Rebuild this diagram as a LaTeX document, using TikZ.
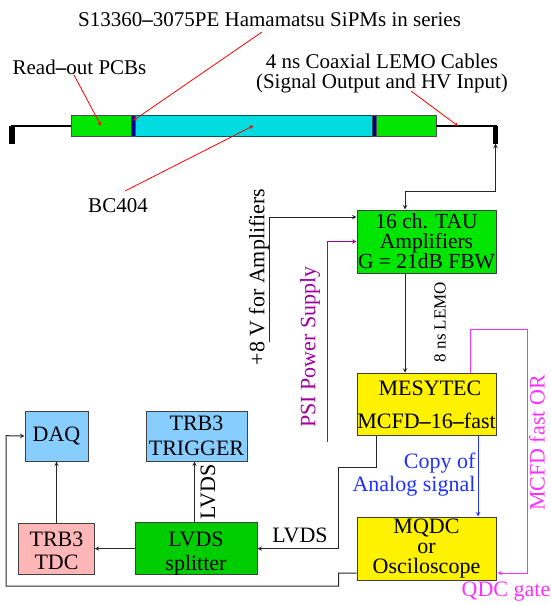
\documentclass[tikz,border=0pt]{standalone}
\usepackage{fontspec}
\setmainfont{Liberation Serif}
\usetikzlibrary{calc}
\definecolor{ampgreen}{HTML}{00E600}
\definecolor{splitgreen}{HTML}{00CD00}
\definecolor{boxblue}{HTML}{87CEFF}
\definecolor{boxpink}{HTML}{FFB6B6}
\definecolor{scintcyan}{HTML}{00DCE0}
\definecolor{sipmblue}{HTML}{000090}
\definecolor{psipurple}{HTML}{A000A0}
\definecolor{gatemagenta}{HTML}{FF30FF}
\definecolor{copyblue}{HTML}{2030FF}
\tikzset{
	box/.style={draw=black!75, line width=1pt, inner sep=0pt, align=center, font=\fontsize{22}{22}\selectfont},
	barpart/.style={draw=black!70, line width=0.8pt, inner sep=0pt, minimum height=20.5pt},
	cable/.style={line width=2.2pt},
	plug/.style={fill=black, inner sep=0pt, minimum width=5.5pt, minimum height=18pt},
	pointer/.style={->, red, line width=0.8pt},
	wire/.style={line width=1pt, black!85},
	lbl/.style={inner sep=0pt, align=center, font=\fontsize{21}{20}\selectfont},
	rlbl/.style={inner sep=0pt, rotate=90, font=\fontsize{22}{22}\selectfont}
}
\begin{document}
\begin{tikzpicture}[x=1pt, y=-1pt, >=stealth]
	\useasboundingbox (0, 0) rectangle (551, 605);

	% bar with the read-out boards
	\node[plug](PL) at (12, 134.5){};
	\node[plug](PR) at (495.5, 134.5){};
	\node[barpart, fill=ampgreen, minimum width=60pt](PCBL) at (101, 125.7){};
	\node[barpart, fill=ampgreen, minimum width=60pt](PCBR) at (406, 125.7){};
	\node[barpart, fill=scintcyan, draw=teal!70!black, minimum width=237pt](BC) at (253.5, 125.7){};
	\node[barpart, fill=sipmblue, minimum width=4pt](SL) at (133, 125.7){};
	\node[barpart, fill=sipmblue, minimum width=4pt](SR) at (374, 125.7){};
	\draw [cable] (PL.north) |- (PCBL.west);
	\draw [cable] (PCBR.east) -| (PR.north);

	% boxes
	\node[box, fill=ampgreen, minimum width=139pt, minimum height=63pt, font=\fontsize{21.5}{20}\selectfont](AMP) at (426.5, 241.5){16 ch. TAU\\Amplifiers\\G = 21dB FBW};
	\node[box, fill=yellow, minimum width=139pt, minimum height=62.5pt](MES) at (426.5, 404.5){\hspace*{7pt}MESYTEC\\[11pt]MCFD\textbf{--}16\textbf{--}fast};
	\node[box, fill=yellow, minimum width=139pt, minimum height=63pt, font=\fontsize{22}{20}\selectfont](QDC) at (426.5, 548.5){MQDC\\or\\Osciloscope};
	\node[box, fill=splitgreen, minimum width=122pt, minimum height=51pt, font=\fontsize{22}{24}\selectfont](SPL) at (196, 548.5){\rule{0pt}{24pt}LVDS\\splitter};
	\node[box, fill=boxpink, minimum width=75.5pt, minimum height=51pt, font=\fontsize{22}{23}\selectfont](TDC) at (56.5, 548.5){\rule{0pt}{19pt}TRB3\\TDC};
	\node[box, fill=boxblue, minimum width=63pt, minimum height=50pt](DAQ) at (56.5, 436){DAQ};
	\node[box, fill=boxblue, minimum width=101pt, minimum height=50pt, font=\fontsize{22}{25}\selectfont](TRG) at (196.5, 436){TRB3\\TRIGGER};

	% free ends
	\coordinate(VIN) at (269, 342);
	\coordinate(PSI) at (327.5, 441.5);
	\coordinate(RO) at (74, 75);
	\coordinate(SM) at (262, 32);
	\coordinate(LM) at (411, 91);
	\coordinate(LE) at (458, 126);
	\coordinate(BL) at (125, 191);

	% labels
	\node[lbl](TITLE) at (269.5, 20){S13360\textbf{--}3075PE Hamamatsu SiPMs in series};
	\node[lbl](ROL) at (79.5, 67){Read\textbf{--}out PCBs};
	\node[lbl](LML) at (382, 73.5){4 ns Coaxial LEMO Cables\\(Signal Output and HV Input)};
	\node[lbl](BLL) at (118, 206){BC404};
	\node[rlbl](VL) at (259, 277){+8 V for Amplifiers};
	\node[rlbl, text=psipurple](PSIL) at (310, 347){PSI Power Supply};
	\node[rlbl, font=\fontsize{17}{17}\selectfont](NSL) at (440, 322){8 ns LEMO};
	\node[rlbl, text=gatemagenta](ORL) at (537, 443){MCFD fast OR};
	\node[lbl, text=gatemagenta, font=\fontsize{22}{22}\selectfont](QL) at (506, 592){QDC gate};
	\node[lbl, text=copyblue, align=right, font=\fontsize{22}{23}\selectfont](CPL) at (414, 475){Copy of\\Analog signal};
	\node[lbl, font=\fontsize{22}{22}\selectfont](LV1) at (300, 535){LVDS};
	\node[rlbl](LV2) at (208, 492){LVDS};

	\draw [pointer] (RO) -- (PCBL.center);
	\draw [pointer] (SM) -- ([yshift=5pt]SL.center);
	\draw [pointer] (LM) -- (LE);
	\draw [pointer] (BL) -- (BC.center);

	\draw [<->, wire] (PR.south) |- (405, 191) -- ([xshift=-21.5pt]AMP.north);
	\draw [->, wire] (VIN) |- ([yshift=24.5pt]AMP.west);
	\draw [->, psipurple, line width=1pt] (PSI) |- (AMP.west);
	\draw [->, wire] ([xshift=-21.5pt]AMP.south) -- ([xshift=-21.5pt]MES.north);
	\draw [->, copyblue, line width=1pt] ([xshift=51.5pt]MES.south) -- ([xshift=51.5pt]QDC.north);
	\draw [->, gatemagenta, line width=1pt] ([xshift=44pt]MES.north) |- (527, 329) |- ([yshift=-24.5pt, xshift=1pt]QDC.east);
	\draw [->, wire] ([xshift=-50pt]MES.south) |- (338.7, 467) |- (SPL.east);
	\draw [->, wire] ([yshift=-24.5pt]QDC.west) -| (338.7, 586) -| (6, 435.7) -- (DAQ.west);
	\draw [->, wire] (SPL.west) -- (TDC.east);
	\draw [->, wire] (TDC.north) -- (DAQ.south);
	\draw [->, wire] ([xshift=-1.5pt]SPL.north) -- ([xshift=-2pt]TRG.south);
\end{tikzpicture}
\end{document}
